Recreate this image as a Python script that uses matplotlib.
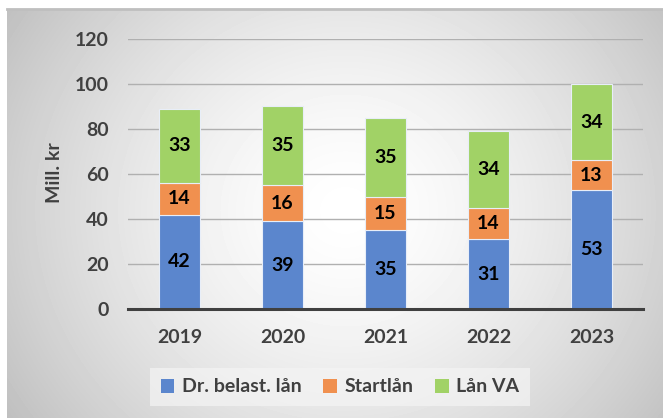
import matplotlib
matplotlib.use("Agg")
import matplotlib.pyplot as plt
import numpy as np
from matplotlib.patches import Patch

# ------------------------------
# Data
# ------------------------------
years = ["2019", "2020", "2021", "2022", "2023"]
dr_belast = [42, 39, 35, 31, 53]
startlan = [14, 16, 15, 14, 13]
lan_va = [33, 35, 35, 34, 34]
series_names = ["Dr. belast. lån", "Startlån", "Lån VA"]
y_ticks = [0, 20, 40, 60, 80, 100, 120]

colors = ["#5B86CD", "#F0904F", "#A1D266"]
text_grey = "#404040"

plt.rcParams["font.family"] = ["Lato", "DejaVu Sans"]
plt.rcParams["font.weight"] = "bold"
fs = 14

W, H = 663, 418
fig = plt.figure(figsize=(W / 100, H / 100), dpi=100)
fig.patch.set_facecolor("white")

# ------------------------------
# Gradient background (chart area frame)
# ------------------------------
x0, y0 = 7, 9
bg = fig.add_axes([x0 / W, 0, 1 - x0 / W, (H - y0) / H], zorder=0)
xx, yy = np.meshgrid(np.arange(x0, W), np.arange(y0, H))
d = np.sqrt(((xx - 345) / 330.0) ** 2 + ((yy - 210) / 306.0) ** 2)
val = np.clip(255 - 47 * d ** 1.5, 0, 255) / 255.0
bg.imshow(val, cmap="gray", vmin=0, vmax=1, aspect="auto", interpolation="bilinear")
bg.set_axis_off()
fig.add_artist(plt.Line2D([x0 / W, 1], [1 - y0 / H, 1 - y0 / H], color="#bfbfbf", lw=2))

# ------------------------------
# Main axes
# ------------------------------
ax = fig.add_axes([128 / W, 1 - 309.3 / H, 515 / W, 270.6 / H], zorder=1)
ax.patch.set_alpha(0)

x = np.arange(len(years))
width = 0.39
bottoms = np.zeros(len(years))
for vals, col, name in zip([dr_belast, startlan, lan_va], colors, series_names):
    ax.bar(x, vals, width, bottom=bottoms, color=col, edgecolor="#e8eef8",
           linewidth=0.8, zorder=3, label=name)
    for xi, b, v in zip(x, bottoms, vals):
        ax.text(xi, b + v / 2, str(v), ha="center", va="center", fontsize=fs,
                fontweight="bold", color="black", zorder=4)
    bottoms += np.array(vals)

ax.set_xlim(-0.5, len(years) - 0.5)
ax.set_ylim(0, 120)
ax.set_yticks(y_ticks)
ax.set_xticks(x)
ax.set_xticklabels(years)
ax.yaxis.grid(True, color="#b0b0b0", linewidth=1.0, zorder=1)
ax.set_axisbelow(True)
ax.tick_params(axis="both", length=0, labelsize=fs, labelcolor=text_grey)
ax.tick_params(axis="y", pad=14)
ax.tick_params(axis="x", pad=14)
for lab in ax.get_xticklabels() + ax.get_yticklabels():
    lab.set_fontweight("bold")
for s in ["top", "right", "left"]:
    ax.spines[s].set_visible(False)
ax.spines["bottom"].set_color(text_grey)
ax.spines["bottom"].set_linewidth(2.2)
ax.spines["bottom"].set_zorder(5)

fig.text(55 / W, 1 - 173 / H, "Mill. kr", rotation=90, ha="center", va="center",
         fontsize=fs, fontweight="bold", color=text_grey)

handles = [Patch(facecolor=c, edgecolor="none") for c in colors]
leg = fig.legend(handles, series_names, loc="center", bbox_to_anchor=(340 / W, 1 - 387 / H),
                 ncol=3, frameon=True, fontsize=fs, handlelength=0.7, handleheight=0.7,
                 handletextpad=0.4, columnspacing=1.1, borderpad=0.55)
leg.get_frame().set_facecolor("#f4f4f4")
leg.get_frame().set_alpha(0.7)
leg.get_frame().set_edgecolor("none")
leg.get_frame().set_boxstyle("square", pad=0)
for t in leg.get_texts():
    t.set_color(text_grey)
    t.set_fontweight("bold")

fig.savefig("out.png", dpi=100)
